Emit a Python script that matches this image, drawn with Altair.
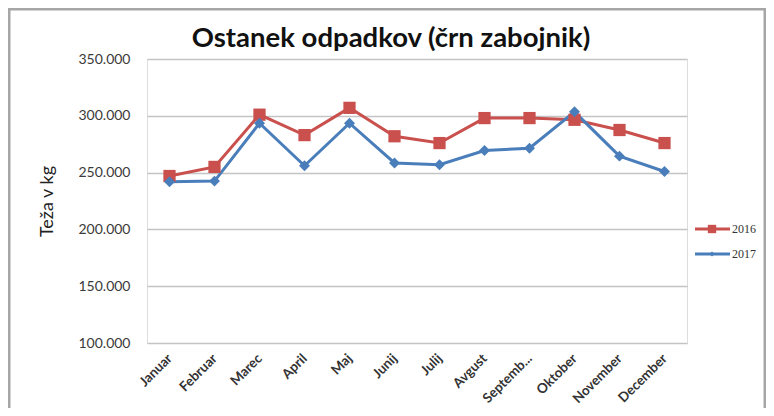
import altair as alt
import pandas as pd

months = ["Januar", "Februar", "Marec", "April", "Maj", "Junij", "Julij",
          "Avgust", "Septemb...", "Oktober", "November", "December"]
v2016 = [247000, 255000, 301000, 283000, 307000, 282000, 276000,
         298000, 298000, 296500, 287500, 276000]
v2017 = [242000, 242500, 293500, 256000, 293500, 258500, 257000,
         269500, 271500, 303500, 264500, 251000]
series = ["2016", "2017"]
colors = ["#C9504D", "#4A7EBB"]
shapes = ["square", "diamond"]
title_text = "Ostanek odpadkov (črn zabojnik)"
y_title = "Teža v kg"
y_ticks = [100000, 150000, 200000, 250000, 300000, 350000]

df = pd.DataFrame({
    "Mesec": months * 2,
    "Teža": v2016 + v2017,
    "Leto": [series[0]] * len(months) + [series[1]] * len(months),
})

W, H = 540, 284
PL, PT, PR, PB = 139, 51, 79, 65

x = alt.X("Mesec:N", sort=months, title=None,
          scale=alt.Scale(paddingInner=0, paddingOuter=0),
          axis=alt.Axis(labelAngle=-45, labelAlign="right", labelBaseline="middle",
                        labelFont="Lato", labelFontSize=13.5, labelFontWeight="bold",
                        labelColor="#333333",
                        labelPadding=13, ticks=False, domain=False, grid=False))
y = alt.Y("Teža:Q", title=y_title,
          scale=alt.Scale(domain=[100000, 350000], nice=False, zero=False),
          axis=alt.Axis(values=y_ticks,
                        labelExpr="replace(format(datum.value, ','), ',', '.')",
                        labelFont="Lato", labelFontSize=14, labelColor="#3A3A3A",
                        labelPadding=17, ticks=False, domain=False,
                        gridColor="#C4C4C4", gridWidth=1.3,
                        titleFont="Lato", titleFontSize=18, titleFontWeight="normal",
                        titleColor="#222222", titleAngle=-90, titleX=-100, titleY=H / 2,
                        titleAlign="center", titleBaseline="middle"))
color = alt.Color("Leto:N", scale=alt.Scale(domain=series, range=colors), legend=None)

lines = alt.Chart(df).mark_line(strokeWidth=3).encode(x=x, y=y, color=color)
pts_a = alt.Chart(df[df["Leto"] == series[0]]).mark_point(
    shape=shapes[0], filled=True, size=150, opacity=1).encode(x=x, y=y, color=color)
pts_b = alt.Chart(df[df["Leto"] == series[1]]).mark_point(
    shape=shapes[1], filled=True, size=120, opacity=1).encode(x=x, y=y, color=color)

one = pd.DataFrame({"t": [title_text]})

# outer frame
frame = alt.Chart(one).mark_rect(
    fill=None, stroke="#A6A6A6", strokeWidth=3, clip=False).encode(
    x=alt.value(-PL + 1), x2=alt.value(W + PR - 1),
    y=alt.value(-PT + 1), y2=alt.value(H + PB + 10))

# title
title = alt.Chart(one).mark_text(font="Lato", fontSize=27.5, fontWeight="bold",
                                 color="#111111", align="center",
                                 baseline="alphabetic").encode(
    x=alt.value(244), y=alt.value(-12), text="t:N")

# legend
leg_layers = []
for i, (s, c, sh) in enumerate(zip(series, colors, shapes)):
    yy = 170 + 25 * i
    d = pd.DataFrame({"Leto": [s]})
    leg_layers.append(alt.Chart(d).mark_rule(color=c, strokeWidth=3).encode(
        x=alt.value(548), x2=alt.value(583), y=alt.value(yy)))
    leg_layers.append(alt.Chart(d).mark_point(shape=sh, filled=True, opacity=1,
                                              color=c, size=70 if i == 0 else 25).encode(
        x=alt.value(565), y=alt.value(yy)))
    leg_layers.append(alt.Chart(d).mark_text(align="left", baseline="middle",
                                             font="Liberation Serif", fontSize=12,
                                             color="#333333").encode(
        x=alt.value(585), y=alt.value(yy), text="Leto:N"))

chart = alt.layer(frame, lines, pts_a, pts_b, title, *leg_layers).properties(
    width=W, height=H,
    autosize=alt.AutoSizeParams(type="none"),
    padding={"left": PL, "top": PT, "right": PR, "bottom": PB},
).configure_view(stroke="#BFBFBF", strokeWidth=1.5).configure(background="white")

chart.save("out.html", embed_options={"renderer": "svg", "actions": False})
